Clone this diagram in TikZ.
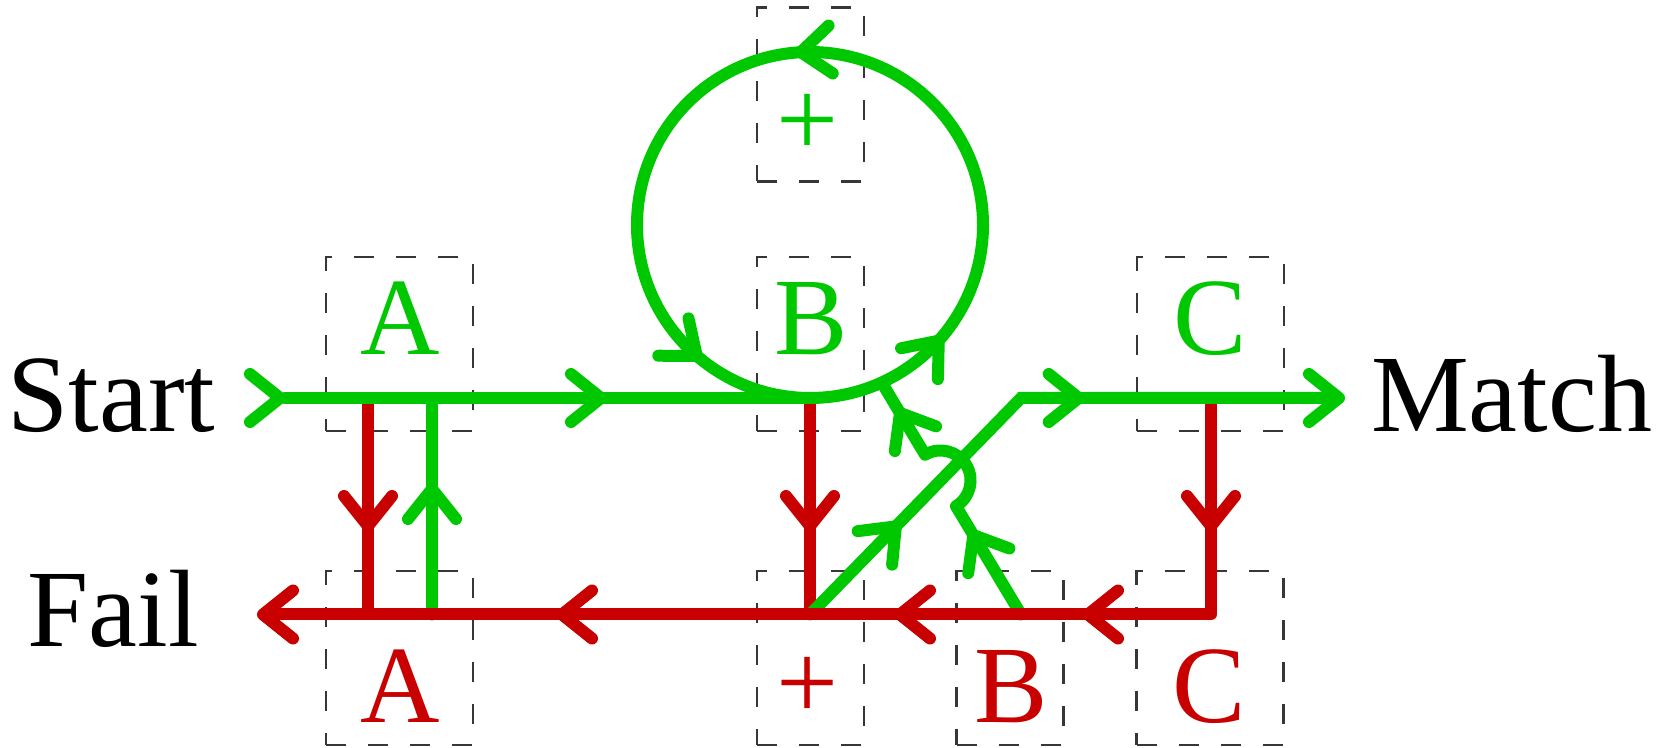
\documentclass[tikz,border=0pt]{standalone}
\usepackage{fontspec}
\setmainfont{Liberation Serif}
\usetikzlibrary{arrows.meta,decorations.markings}
\definecolor{gr}{RGB}{0,200,0}
\definecolor{rd}{RGB}{200,0,0}
\definecolor{bx}{RGB}{55,55,55}
\tikzset{
  bb/.tip={Straight Barb[length=15pt,width=24pt,round]},
  flow/.style={line width=6pt, line join=round, line cap=round},
  gflow/.style={flow, color=gr},
  rflow/.style={flow, color=rd},
  mk/.style={postaction={decorate,decoration={markings,#1}}},
  wbox/.style={draw=bx, line width=1.1pt, dash pattern=on 10pt off 11pt, minimum width=73.5pt, minimum height=87pt, inner sep=0pt},
  nbox/.style={wbox, minimum width=53.5pt},
  big/.style={font=\fontsize{55}{60}\selectfont, inner sep=0pt, anchor=base},
  plus/.style={font=\fontsize{55}{60}\selectfont, inner sep=0pt},
}
\begin{document}
\begin{tikzpicture}[x=0.5pt,y=0.5pt]
\useasboundingbox (0,0) rectangle (1666,748);
% boxes
\node[wbox] (bA1) at (399.5,404) {};
\node[nbox] (bB1) at (810.5,404) {};
\node[wbox] (bC1) at (1210.5,404) {};
\node[nbox] (bP1) at (810.5,653.5) {};
\node[wbox] (bA2) at (399.5,90) {};
\node[nbox] (bP2) at (810.5,90) {};
\node[nbox] (bB2) at (1010,90) {};
\node[wbox] (bC2) at (1210,90) {};
% labels
\node[big, text=gr] (lA1) at (400,393) {A};
\node[big, text=gr] (lB1) at (811,393) {B};
\node[big, text=gr] (lC1) at (1210,393) {C};
\node[plus, text=gr] (lP1) at (808,623) {+};
\node[big, text=rd] (lA2) at (400,25.5) {A};
\node[plus, text=rd] (lP2) at (808,60) {+};
\node[big, text=rd] (lB2) at (1011,25.5) {B};
\node[big, text=rd] (lC2) at (1209,25.5) {C};
\node[big] (tStart) at (111.5,316) {Start};
\node[big] (tFail) at (113,101) {Fail};
\node[big] (tMatch) at (1511.5,316) {Match};
% coordinates
\coordinate (gS) at (285,350);
\coordinate (cb) at (810,350);
\coordinate (aT) at (432,350);
\coordinate (aB) at (432,133.5);
\coordinate (raT) at (368,344);
\coordinate (raB) at (368,133.5);
\coordinate (rbT) at (810,344);
\coordinate (rbB) at (810,133.5);
\coordinate (rcT) at (1211,344);
\coordinate (rcB) at (1211,133.5);
\coordinate (fEnd) at (257,133.5);
\coordinate (dS) at (810,133.5);
\coordinate (dC) at (1021,350);
\coordinate (mEnd) at (1345,350);
\coordinate (hS) at (1021,133.5);
\coordinate (h1) at (956,241.8);
\coordinate (hE) at (882,365);
% red verticals
\draw[rflow, line cap=butt, mk={mark=at position 64pt with {\arrow{bb}}}] (raT) -- (raB);
\draw[rflow, line cap=butt, mk={mark=at position 64pt with {\arrow{bb}}}] (rbT) -- (rbB);
% green paths
\draw[gflow, mk={mark=at position 0.5pt with {\arrow{bb}}, mark=at position 161pt with {\arrow{bb}}}] (gS) -- (cb);
\draw[gflow, mk={mark=at position 0.139 with {\arrow{bb}}, mark=at position 0.514 with {\arrow{bb}}, mark=at position 0.892 with {\arrow{bb}}}] (cb) arc[start angle=-90, end angle=270, radius=86.5pt];
\draw[gflow, mk={mark=at position 65.75pt with {\arrow{bb}}}] (aB) -- (aT);
\draw[gflow, line join=miter, -bb, mk={mark=at position 64.5pt with {\arrow{bb}}, mark=at position 183pt with {\arrow{bb}}}] (dS) -- (dC) -- (mEnd);
\draw[gflow, mk={mark=at position 49.3pt with {\arrow{bb}}, mark=at position 137.6pt with {\arrow{bb}}}] (hS) -- (h1) arc[start angle=-59, end angle=121, radius=15pt] -- (hE);
% red main
\draw[rflow, line cap=butt, -bb, mk={mark=at position 64pt with {\arrow{bb}}, mark=at position 169.75pt with {\arrow{bb}}, mark=at position 263.75pt with {\arrow{bb}}, mark=at position 432.75pt with {\arrow{bb}}}] (rcT) -- (rcB) -- (fEnd);
\end{tikzpicture}
\end{document}
